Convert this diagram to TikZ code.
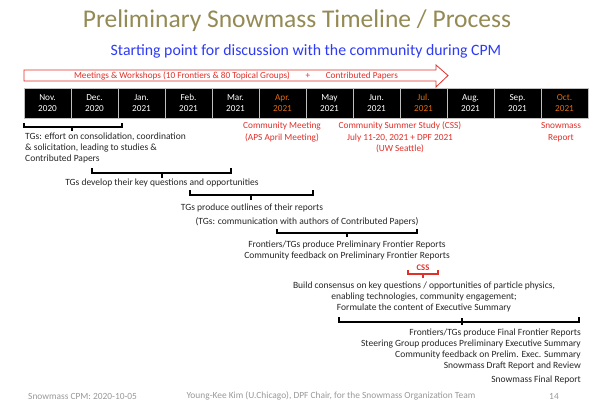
\documentclass[tikz,border=0pt]{standalone}
\usepackage{fontspec}
\setmainfont{Carlito}
\definecolor{titleol}{HTML}{948A54}
\definecolor{subblue}{HTML}{2E3BF5}
\definecolor{evred}{HTML}{E0302A}
\definecolor{monor}{HTML}{E46C0A}
\definecolor{txgray}{HTML}{262626}
\definecolor{footgray}{HTML}{999999}
\begin{document}
\begin{tikzpicture}[x=1pt,y=-1pt,
  tx/.style={font=\fontsize{9.5}{11}\selectfont, inner sep=0pt, text=txgray},
  redtx/.style={font=\fontsize{9.3}{11.5}\selectfont, inner sep=0pt, text=evred, align=center},
  monthbox/.style={draw=white!75!black, line width=0.6pt, fill=black, minimum width=47pt, minimum height=30pt, inner sep=0pt, text=white, align=center, font=\fontsize{9.2}{11}\selectfont},
  bracket/.style={line width=1.2pt, black},
  foot/.style={font=\fontsize{9.4}{10}\selectfont, inner sep=0pt, text=footgray}]
\useasboundingbox (0,0) rectangle (594,400);
\fill[white] (0,0) rectangle (594,400);
% titles
\node[font=\fontsize{25.5}{28}\selectfont, text=titleol, inner sep=0pt] (title) at (297,21) {Preliminary Snowmass Timeline / Process};
\node[font=\fontsize{15.8}{18}\selectfont, text=subblue, inner sep=0pt] (sub) at (306,51) {Starting point for discussion with the community during CPM};
% arrow
\draw[evred, line width=0.8pt, fill=white] (24,70) -- (436,70) -- (436,65) -- (448,75.5) -- (436,87) -- (436,81) -- (24,81) -- cycle;
\node[font=\fontsize{9.2}{10}\selectfont, text=evred, inner sep=0pt] (arrtx) at (236,75.5) {Meetings \& Workshops (10 Frontiers \& 80 Topical Groups)\hspace{1.7em}+\hspace{1.7em}Contributed Papers};
% months
\foreach \i/\m/\y/\c in {0/Nov./2020/white, 1/Dec./2020/white, 2/Jan./2021/white, 3/Feb./2021/white, 4/Mar./2021/white, 5/Apr./2021/monor, 6/May/2021/white, 7/Jun./2021/white, 8/Jul./2021/monor, 9/Aug./2021/white, 10/Sep./2021/white, 11/Oct./2021/monor}{
  \node[monthbox, text=\c] (m\i) at ({47.5+47*\i},103) {\m\\\y};
}
% red event labels
\node[redtx] (ev1) at (282,132) {Community Meeting\\(APS April Meeting)};
\node[redtx] (ev2) at (400,137.5) {Community Summer Study (CSS)\\July 11-20, 2021 + DPF 2021\\(UW Seattle)};
\node[redtx] (ev3) at (561,132) {Snowmass\\Report};
% bracket 1
\draw[bracket] (24,123) -- (24,127) -- (122,127) -- (122,123);
\draw[bracket] (72,127) -- (72,131);
\node[tx, anchor=north west, align=left] (t1) at (25,132.5) {TGs: effort on consolidation, coordination\\\& solicitation, leading to studies \&\\Contributed Papers};
% bracket 2
\draw[bracket] (92,168) -- (92,173) -- (231,173) -- (231,168);
\draw[bracket] (162,173) -- (162,178);
\node[tx] (t2) at (162,183) {TGs develop their key questions and opportunities};
% bracket 3
\draw[bracket] (190,190) -- (190,195) -- (313,195) -- (313,190);
\draw[bracket] (251,195) -- (251,200);
\node[tx] (t3a) at (252,208) {TGs produce outlines of their reports};
\node[tx] (t3b) at (307,222) {(TGs: communication with authors of Contributed Papers)};
% bracket 4
\draw[bracket] (277,229) -- (277,233) -- (417,233) -- (417,229);
\draw[bracket] (347,233) -- (347,237);
\node[tx, align=center] (t4) at (347,250) {Frontiers/TGs produce Preliminary Frontier Reports\\Community feedback on Preliminary Frontier Reports};
% CSS bracket
\draw[bracket, evred] (408,270) -- (408,274) -- (438,274) -- (438,270);
\draw[bracket, evred] (423,274) -- (423,278);
\node[font=\fontsize{8.6}{9}\selectfont\bfseries, text=evred, inner sep=0pt] (css) at (423,268) {CSS};
% consensus text
\node[tx, align=center] (t5) at (424,296.5) {Build consensus on key questions / opportunities of particle physics,\\enabling technologies, community engagement;\\Formulate the content of Executive Summary};
% bracket 5
\draw[bracket] (339,317) -- (339,322) -- (579,322) -- (579,317);
\draw[bracket] (462,318) -- (462,325);
\node[tx, align=right, anchor=north east] (t6) at (581,329) {Frontiers/TGs produce Final Frontier Reports\\Steering Group produces Preliminary Executive Summary\\Community feedback on Prelim. Exec. Summary\\Snowmass Draft Report and Review\\[3pt]Snowmass Final Report};
% footer
\node[foot, anchor=west] (f1) at (28,396) {Snowmass CPM: 2020-10-05};
\node[foot] (f2) at (331,396) {Young-Kee Kim (U.Chicago), DPF Chair, for the Snowmass Organization Team};
\node[foot] (f3) at (554,396) {14};
\end{tikzpicture}
\end{document}
